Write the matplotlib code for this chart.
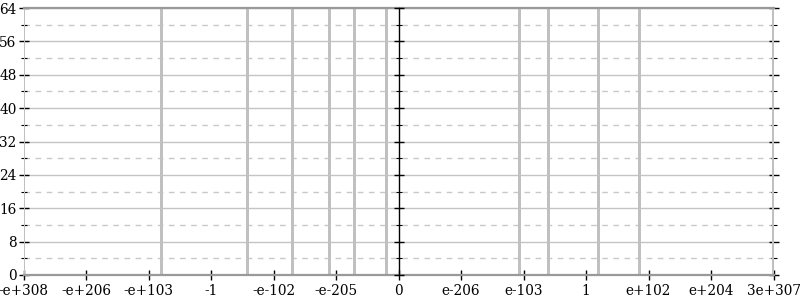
import matplotlib
matplotlib.use("Agg")
from matplotlib import pyplot as plt
from matplotlib.ticker import MultipleLocator

# tick labels, evenly spaced along the (ordered float) axis
tick_pos = [-6, -5, -4, -3, -2, -1, 0, 1, 2, 3, 4, 5, 6]
tick_labels = ["-e+308", "-e+206", "-e+103", "-1", "-e-102", "-e-205", "0",
               "e-206", "e-103", "1", "e+102", "e+204", "3e+307"]

# bins that are filled (all reach the top of the chart)
bar_pos = [-6.0, -3.79, -2.41, -1.70, -1.10, -0.71, -0.19,
           1.94, 2.40, 3.20, 3.86, 6.0]
bar_counts = [64, 64, 64, 64, 64, 64, 64, 64, 64, 64, 64, 64]

plt.rcParams["font.family"] = ["DejaVu Serif"]
plt.rcParams["font.size"] = 9.8

fig = plt.figure(figsize=(8, 3), dpi=100)
rect = [23.5 / 800, 1 - 275 / 300, 750 / 800, 267 / 300]
ax = fig.add_axes(rect)

ax.bar(bar_pos, bar_counts, width=0.045, color="#c0c0c0", zorder=2)

ax.set_xlim(-6, 6)
ax.set_ylim(0, 64)
ax.set_xticks(tick_pos)
ax.set_xticklabels(tick_labels)
ax.yaxis.set_major_locator(MultipleLocator(8))
ax.yaxis.set_minor_locator(MultipleLocator(4))

ax.grid(axis="y", which="major", color="#c4c4c4", lw=1, zorder=0)
ax.grid(axis="y", which="minor", color="#c8c8c8", lw=1, ls=(0, (4, 4)), zorder=0)
ax.set_axisbelow(True)

for s in ["left", "right"]:
    ax.spines[s].set_visible(False)
for s in ["top", "bottom"]:
    ax.spines[s].set_color("#999999")
    ax.spines[s].set_linewidth(1.6)
    ax.spines[s].set_zorder(3)

ax.tick_params(axis="x", direction="inout", length=7, width=1, pad=3, colors="black")
ax.tick_params(axis="y", which="major", direction="inout", length=7, width=1,
               pad=1.5, left=True, right=True)
ax.tick_params(axis="y", which="minor", direction="inout", length=4.3, width=0.8,
               left=True, right=True)

# extra vertical axis through zero with crossing ticks
ax2 = fig.add_axes(rect)
ax2.set_xlim(-6, 6)
ax2.set_ylim(0, 64)
ax2.patch.set_visible(False)
for s in ["top", "bottom", "right"]:
    ax2.spines[s].set_visible(False)
ax2.spines["left"].set_position(("data", 0))
ax2.spines["left"].set_color("black")
ax2.spines["left"].set_linewidth(1)
ax2.set_xticks([])
ax2.yaxis.set_major_locator(MultipleLocator(8))
ax2.yaxis.set_minor_locator(MultipleLocator(4))
ax2.tick_params(axis="y", which="major", direction="inout", length=7, width=1,
                labelleft=False)
ax2.tick_params(axis="y", which="minor", direction="inout", length=4.3, width=0.8)

fig.savefig("out.png", dpi=100)
